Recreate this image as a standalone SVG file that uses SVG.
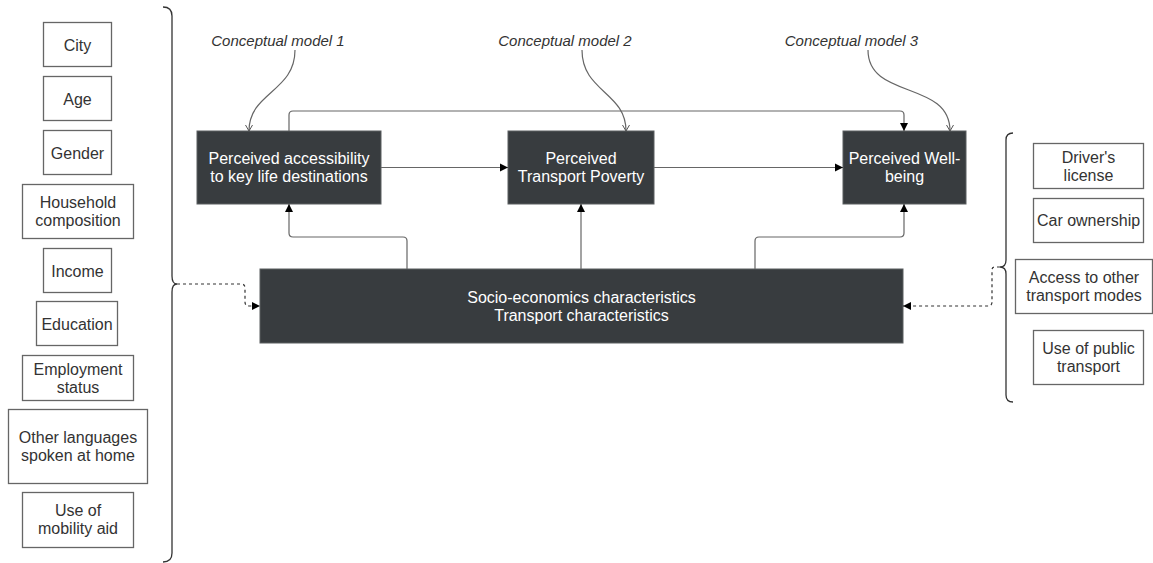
<svg xmlns="http://www.w3.org/2000/svg" width="1153" height="563" viewBox="0 0 1153 563">
<style>
text{font-family:"Liberation Sans",Arial,sans-serif;font-size:16px;text-anchor:middle}
.lb rect{fill:#fff;stroke:#666;stroke-width:1.3}
.lb text{fill:#333}
.db rect{fill:#383c3f;stroke:#5a5e61;stroke-width:1}
.db text{fill:#fff}
.cm text{fill:#333;font-style:italic;font-size:15px}
.c{fill:none;stroke:#666;stroke-width:1.2}
.d{fill:none;stroke:#333;stroke-width:1.2;stroke-dasharray:3 3}
.br{fill:none;stroke:#333;stroke-width:1.3}
</style>
<defs>
<marker id="a" markerUnits="userSpaceOnUse" markerWidth="10" markerHeight="10" refX="9" refY="5" orient="auto"><path d="M1,1 L9,5 L1,9 Z" fill="#000"/></marker>
<marker id="o" markerUnits="userSpaceOnUse" markerWidth="10" markerHeight="10" refX="9" refY="5" orient="auto"><path d="M3,1.5 L9,5 L3,8.5" fill="none" stroke="#555" stroke-width="1"/></marker>
</defs>
<rect width="1153" height="563" fill="#fff"/>

<g id="brace-left"><path class="br" d="M163,7 Q172,7 172,16 V276 Q172,284 177,284 Q172,284 172,292 V553 Q172,562 163,562"/></g>
<g id="brace-right"><path class="br" d="M1013,133 Q1006,133 1006,140 V260 Q1006,267 1000,267 Q1006,267 1006,274 V395 Q1006,402 1013,402"/></g>

<g id="left-items" class="lb">
<g id="city"><rect x="43.5" y="22.5" width="68" height="44"/><text x="77.5" y="50.5">City</text></g>
<g id="age"><rect x="43.5" y="76.5" width="68" height="44"/><text x="77.5" y="104.5">Age</text></g>
<g id="gender"><rect x="43.5" y="130.5" width="68" height="44"/><text x="77.5" y="158.5">Gender</text></g>
<g id="household"><rect x="22.5" y="184.5" width="111" height="54"/><text x="78" y="208">Household</text><text x="78" y="226">composition</text></g>
<g id="income"><rect x="43.5" y="248.5" width="68" height="44"/><text x="77.5" y="276.5">Income</text></g>
<g id="education"><rect x="36.5" y="301.5" width="81" height="44"/><text x="77" y="329.5">Education</text></g>
<g id="employment"><rect x="22.5" y="355.5" width="111" height="45"/><text x="78" y="375">Employment</text><text x="78" y="393">status</text></g>
<g id="languages"><rect x="8.5" y="409.5" width="139" height="74"/><text x="78" y="443">Other languages</text><text x="78" y="461">spoken at home</text></g>
<g id="mobility"><rect x="22.5" y="492.5" width="111" height="55"/><text x="78" y="516">Use of</text><text x="78" y="534">mobility aid</text></g>
</g>

<g id="right-items" class="lb">
<g id="license"><rect x="1033.5" y="143.5" width="110" height="45"/><text x="1088.5" y="163">Driver's</text><text x="1088.5" y="181">license</text></g>
<g id="car"><rect x="1033.5" y="198.5" width="110" height="44"/><text x="1088.5" y="226">Car ownership</text></g>
<g id="access"><rect x="1015.5" y="259.5" width="137" height="54"/><text x="1084" y="283">Access to other</text><text x="1084" y="301">transport modes</text></g>
<g id="public"><rect x="1033.5" y="330.5" width="110" height="54"/><text x="1088.5" y="354">Use of public</text><text x="1088.5" y="372">transport</text></g>
</g>

<g id="labels" class="cm">
<g id="cm1"><text x="278" y="46">Conceptual model 1</text></g>
<g id="cm2"><text x="565" y="46">Conceptual model 2</text></g>
<g id="cm3"><text x="851.5" y="46">Conceptual model 3</text></g>
</g>

<g id="nodes" class="db">
<g id="accessibility"><rect x="197" y="131" width="184" height="73"/><text x="289" y="164">Perceived accessibility</text><text x="289" y="182">to key life destinations</text></g>
<g id="poverty"><rect x="508" y="131" width="146" height="73"/><text x="581" y="164">Perceived</text><text x="581" y="182">Transport Poverty</text></g>
<g id="wellbeing"><rect x="843" y="131" width="123" height="73"/><text x="904.5" y="164">Perceived Well-</text><text x="904.5" y="182">being</text></g>
<g id="socio"><rect x="260" y="269" width="643" height="74"/><text x="581.5" y="303">Socio-economics characteristics</text><text x="581.5" y="321">Transport characteristics</text></g>
</g>

<g id="connectors">
<path class="c" d="M381,167.5 H508" marker-end="url(#a)"/>
<path class="c" d="M654,167.5 H843" marker-end="url(#a)"/>
<path class="c" d="M289,131 V115 Q289,111 293,111 H900 Q904,111 904,115 V131" marker-end="url(#a)"/>
<path class="c" d="M407,269 V241 Q407,237 403,237 H293 Q289,237 289,233 V204" marker-end="url(#a)"/>
<path class="c" d="M581,269 V204" marker-end="url(#a)"/>
<path class="c" d="M755,269 V241 Q755,237 759,237 H900 Q904,237 904,233 V204" marker-end="url(#a)"/>
<path class="c" d="M295,50 C295,92 249,92 249,131" marker-end="url(#o)"/>
<path class="c" d="M582,50 C582,92 626,92 626,131" marker-end="url(#o)"/>
<path class="c" d="M868,50 C868,100 950,80 950,131" marker-end="url(#o)"/>
<path class="d" d="M177,284 H241 Q245,284 245,288 V302 Q245,306 249,306 H260" marker-end="url(#a)"/>
<path class="d" d="M1000,267 H995 Q992,267 992,270 V302 Q992,306 988,306 H903" marker-end="url(#a)"/>
</g>
</svg>
